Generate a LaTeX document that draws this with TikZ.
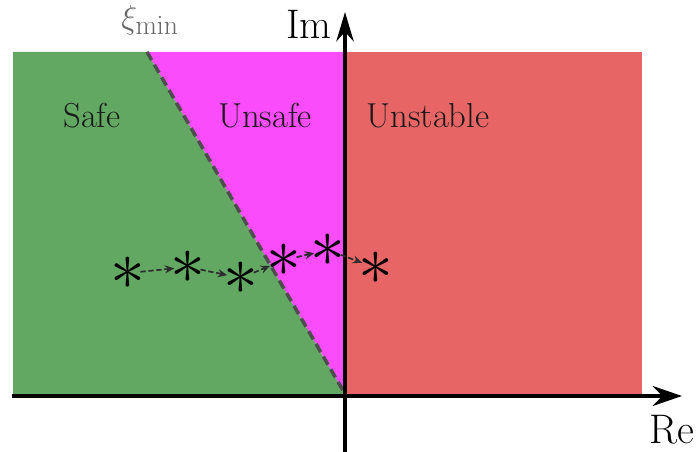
\documentclass[tikz,border=0pt]{standalone}
\usepackage{amsmath,amssymb}
\usepackage{xcolor}
\usepackage{tikz}
\usetikzlibrary{arrows.meta,positioning}
\definecolor{safegreen}{HTML}{62A862}
\definecolor{unsafemag}{HTML}{FA4CFA}
\definecolor{unstred}{HTML}{E86565}
\definecolor{ink2}{HTML}{2E2E2E}
\newcommand{\polestar}{\scalebox{2.1}{$\ast$}}
\tikzset{
  region/.style={font=\fontsize{26}{31}\selectfont, text=black!90},
  axislabel/.style={font=\fontsize{31}{37}\selectfont},
  pole/.style={inner sep=0pt, font=\Huge},
  polearrow/.style={-{Stealth[length=7pt,width=6pt]}, ink2, line width=1.3pt, dash pattern=on 4pt off 2pt, shorten <=-4pt, shorten >=-3pt}
}

\begin{document}
\begin{tikzpicture}[x=0.75pt, y=-0.75pt]
      \useasboundingbox (0,0) rectangle (699,452);
      % regions of the s-plane
      \fill[safegreen] (13,52) -- (147,52) -- (345,394) -- (13,394) -- cycle;
      \fill[unsafemag] (147,52) -- (345,52) -- (345,394) -- cycle;
      \fill[unstred] (345,52) rectangle (642,394);
      \draw[ink2!85, line width=2.6pt, dash pattern=on 7pt off 4pt] (147,52) -- (345,394);
      \node[region] (safe) at (92,116) {Safe};
      \node[region] (unsafe) at (265,116) {Unsafe};
      \node[region] (unstable) at (428,116) {Unstable};
      \node[font=\fontsize{30}{36}\selectfont, text=black!60] (ximin) at (150,20) {$\xi_{\min}$};
      % axes
      \draw[line width=3pt, -{Stealth[length=22pt,width=15pt]}] (12,396) -- (682,396);
      \draw[line width=3pt, -{Stealth[length=22pt,width=13pt]}] (345,452) -- (345,12);
      \node[axislabel] (re) at (672,430) {Re};
      \node[axislabel] (im) at (309,24) {Im};
      % pole trajectory
      \node[pole] (p1) at (128,273) {\polestar};
      \node[pole] (p2) at (188,267) {\polestar};
      \node[pole] (p3) at (241,278) {\polestar};
      \node[pole] (p4) at (284,260) {\polestar};
      \node[pole] (p5) at (328,250) {\polestar};
      \node[pole] (p6) at (376,268) {\polestar};
      \foreach \a/\b in {p1/p2,p2/p3,p3/p4,p4/p5,p5/p6} \draw[polearrow] (\a) -- (\b);
    \end{tikzpicture}
\end{document}
